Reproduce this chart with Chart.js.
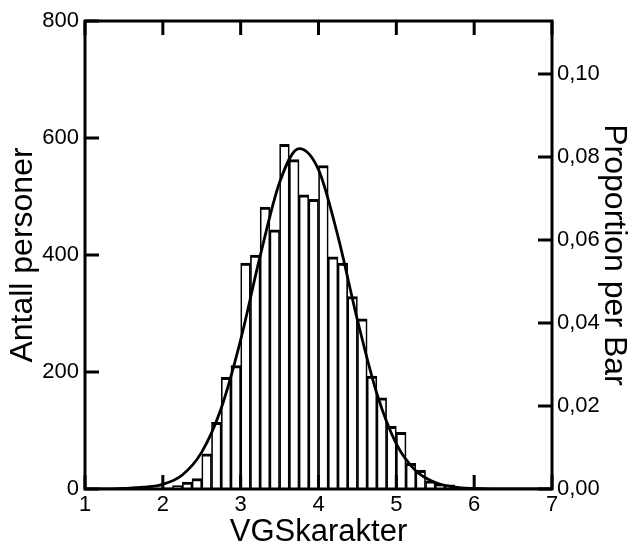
<!DOCTYPE html>
<html>
<head>
<meta charset="utf-8">
<script src="https://cdn.jsdelivr.net/npm/chart.js@4.4.1/dist/chart.umd.min.js"></script>
<style>
  html, body { margin: 0; padding: 0; background: #fff; }
  canvas { display: block; }
</style>
</head>
<body>
<canvas id="hist" width="634" height="551"></canvas>
<script>
// histogram bins (centres, width 0.125) and counts
const binCenters = [2.0625, 2.1875, 2.3125, 2.4375, 2.5625, 2.6875, 2.8125, 2.9375,
    3.0625, 3.1875, 3.3125, 3.4375, 3.5625, 3.6875, 3.8125, 3.9375,
    4.0625, 4.1875, 4.3125, 4.4375, 4.5625, 4.6875, 4.8125, 4.9375,
    5.0625, 5.1875, 5.3125, 5.4375, 5.5625, 5.6875, 5.8125, 5.9375, 6.0625];
const counts = [2, 6, 12, 18, 60, 114, 191, 211,
    386, 400, 482, 443, 589, 563, 503, 495,
    553, 397, 386, 329, 291, 193, 156, 107,
    97, 44, 32, 14, 8, 7, 3, 2, 1];

// normal curve
const curveX = [1, 1.25, 1.5, 1.75, 2, 2.25, 2.5, 2.75, 3, 3.25, 3.5, 3.75,
    4, 4.25, 4.5, 4.75, 5, 5.25, 5.5, 5.75, 6, 6.5, 7];
const curveY = [0, 0, 1, 3, 8, 24, 63, 138, 255, 398, 524, 582,
    546, 432, 289, 163, 77, 31, 11, 3, 1, 0, 0];

// tick labels
const xTicks = [1, 2, 3, 4, 5, 6, 7];
const countTicks = [0, 200, 400, 600, 800];
const propTicks = [0, 0.02, 0.04, 0.06, 0.08, 0.10];

const total = counts.reduce((a, b) => a + b, 0);

Chart.defaults.font.family = "'Liberation Sans', Arial, sans-serif";
Chart.defaults.color = '#000';

// frame + inward ticks
const frameTicks = {
    id: 'frameTicks',
    afterDatasetsDraw(chart) {
        const {ctx, chartArea: a, scales} = chart;
        const len = 14;
        ctx.save();
        ctx.strokeStyle = '#000';
        ctx.lineWidth = 3;
        ctx.strokeRect(a.left, a.top, a.right - a.left, a.bottom - a.top);
        ctx.beginPath();
        xTicks.forEach(v => {
            const px = scales.x.getPixelForValue(v);
            ctx.moveTo(px, a.bottom); ctx.lineTo(px, a.bottom - len);
            ctx.moveTo(px, a.top); ctx.lineTo(px, a.top + len);
        });
        countTicks.forEach(v => {
            const py = scales.y.getPixelForValue(v);
            ctx.moveTo(a.left, py); ctx.lineTo(a.left + len, py);
        });
        propTicks.forEach(v => {
            const py = scales.y2.getPixelForValue(v);
            ctx.moveTo(a.right, py); ctx.lineTo(a.right - len, py);
        });
        ctx.stroke();
        ctx.restore();
    }
};

new Chart(document.getElementById('hist'), {
    type: 'bar',
    data: {
        datasets: [
            {
                type: 'line',
                data: curveX.map((x, i) => ({x: x, y: curveY[i]})),
                borderColor: '#000',
                borderWidth: 2.8,
                pointRadius: 0,
                cubicInterpolationMode: 'monotone',
                yAxisID: 'y',
                order: 0
            },
            {
                data: binCenters.map((x, i) => ({x: x, y: counts[i]})),
                backgroundColor: '#fff',
                borderColor: '#000',
                borderWidth: {top: 3, left: 1.7, right: 1.7, bottom: 0},
                borderSkipped: 'start',
                barPercentage: 1,
                categoryPercentage: 1,
                yAxisID: 'y',
                order: 1
            }
        ]
    },
    options: {
        responsive: false,
        animation: false,
        layout: {padding: {top: 21, left: 0, right: 0, bottom: 0}},
        plugins: {legend: {display: false}, tooltip: {enabled: false}},
        scales: {
            x: {
                type: 'linear',
                min: 1, max: 7,
                offset: false,
                grid: {display: false, drawTicks: false},
                border: {display: false},
                afterBuildTicks: s => { s.ticks = xTicks.map(v => ({value: v})); },
                ticks: {font: {size: 22}, padding: 3, maxRotation: 0},
                title: {display: true, text: 'VGSkarakter', font: {size: 31}, padding: 0},
                afterFit: s => { s.height = 62; }
            },
            y: {
                position: 'left',
                min: 0, max: 800,
                grid: {display: false, drawTicks: false},
                border: {display: false},
                afterBuildTicks: s => { s.ticks = countTicks.map(v => ({value: v})); },
                ticks: {font: {size: 22}, padding: 6},
                title: {display: true, text: 'Antall personer', font: {size: 32}, padding: {top: 4, bottom: 0}},
                afterFit: s => { s.width = 85; }
            },
            y2: {
                position: 'right',
                min: 0, max: 800 / total,
                grid: {display: false, drawTicks: false},
                border: {display: false},
                afterBuildTicks: s => { s.ticks = propTicks.map(v => ({value: v})); },
                ticks: {
                    font: {size: 22}, padding: 5,
                    callback: v => v.toFixed(2).replace('.', ',')
                },
                title: {display: true, text: 'Proportion per Bar', font: {size: 32}, padding: {top: 1, bottom: 0}},
                afterFit: s => { s.width = 82; }
            }
        }
    },
    plugins: [frameTicks]
});
</script>
</body>
</html>
